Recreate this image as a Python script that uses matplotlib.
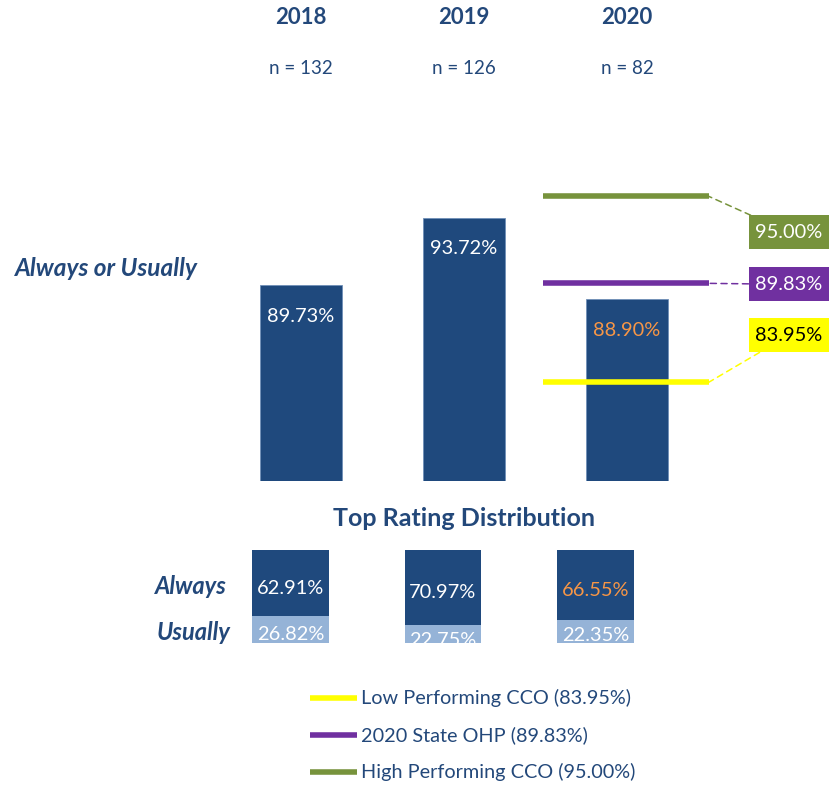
import matplotlib
matplotlib.use('Agg')
import matplotlib.pyplot as plt
from matplotlib.path import Path

plt.rcParams['font.family'] = ['Lato', 'DejaVu Sans']

years = ['2018', '2019', '2020']
n_resp = [132, 126, 82]
always_usually = [89.73, 93.72, 88.90]
always = [62.91, 70.97, 66.55]
usually = [26.82, 22.75, 22.35]
ref_names = ['Low Performing CCO', '2020 State OHP', 'High Performing CCO']
ref_values = [83.95, 89.83, 95.00]

navy = '#1F497D'
text_blue = '#23487A'
light_blue = '#95B3D7'
orange = '#F79646'
ref_colors = ['#FFFF00', '#7030A0', '#77933C']
ref_text = ['black', 'white', 'white']
# label box offsets from the end of each reference line (pixels)
ref_offsets = [(80, 47), (80, -1), (80, -36)]

W, H = 834, 791
fig = plt.figure(figsize=(W / 100, H / 100), dpi=100)

def px_axes(x0, y0, x1, y1):
    return fig.add_axes([x0 / W, 1 - y1 / H, (x1 - x0) / W, (y1 - y0) / H])

def fx(x):
    return x / W

def fy(y):
    return 1 - y / H

def fixed_box(x0, y0, width, height, mutation_size):
    # 80 x 34 px box centred on the label
    cx, cy = x0 + width / 2, y0 + height / 2
    hw, hh = 40, 17
    return Path([(cx - hw, cy - hh), (cx + hw, cy - hh), (cx + hw, cy + hh),
                 (cx - hw, cy + hh), (cx - hw, cy - hh)], closed=True)

# main bars
ax = px_axes(219.5, 181, 708.5, 481)
ax.set_xlim(-0.5, 2.5)
ax.set_ylim(78.1, 78.1 + 300 / 16.85)
ax.axis('off')
for i, v in enumerate(always_usually):
    ax.bar(i, v - 78.1, bottom=78.1, width=0.5, color=navy, edgecolor='#6F8FB8', linewidth=0.6)
    c = orange if years[i] == '2020' else 'white'
    ax.annotate('%.2f%%' % v, xy=(i, v), xytext=(0, -31), textcoords='offset pixels',
                ha='center', va='center', fontsize=14.4, color=c)

for name, v, col, tc, off in zip(ref_names, ref_values, ref_colors, ref_text, ref_offsets):
    ax.plot([1.485, 2.5], [v, v], color=col, linewidth=4, solid_capstyle='butt', zorder=3)
    ax.annotate('%.2f%%' % v, xy=(2.5, v), xytext=off, textcoords='offset pixels',
                ha='center', va='center', fontsize=14.4, color=tc, annotation_clip=False,
                bbox=dict(boxstyle=fixed_box, facecolor=col, edgecolor='none'),
                arrowprops=dict(arrowstyle='-', color=col, linestyle=(0, (4, 3)), linewidth=1.1,
                                shrinkA=0, shrinkB=0))

# top rating distribution
ax2 = px_axes(214.25, 550, 671.75, 643)
ax2.set_xlim(-0.5, 2.5)
ax2.set_ylim(88.5, 0)
ax2.axis('off')
for i in range(len(years)):
    ax2.bar(i, always[i], width=0.5, color=navy)
    ax2.bar(i, usually[i], bottom=always[i], width=0.5, color=light_blue)
    c = orange if years[i] == '2020' else 'white'
    ax2.text(i, always[i] / 2 + 5, '%.2f%%' % always[i], ha='center', va='center',
             fontsize=14.4, color=c)
    t = ax2.text(i, always[i] + usually[i] / 2 + 4, '%.2f%%' % usually[i], ha='center',
                 va='center', fontsize=14.4, color='white')
    t.set_clip_on(True)

# headers
for i, (y, n) in enumerate(zip(years, n_resp)):
    xc = 301 + i * 163
    fig.text(fx(xc), fy(18), y, ha='center', va='center', fontsize=16, fontweight='bold', color=text_blue)
    fig.text(fx(xc), fy(69), 'n = %d' % n, ha='center', va='center', fontsize=13.5, color=text_blue)

fig.text(fx(15), fy(268), 'Always or Usually', ha='left', va='center', fontsize=17.6,
         fontweight='bold', fontstyle='italic', color=text_blue)
fig.text(fx(464), fy(519), 'Top Rating Distribution', ha='center', va='center', fontsize=18,
         fontweight='bold', color=text_blue)
fig.text(fx(191), fy(587), 'Always', ha='center', va='center', fontsize=17,
         fontweight='bold', fontstyle='italic', color=text_blue)
fig.text(fx(194), fy(633), 'Usually', ha='center', va='center', fontsize=17,
         fontweight='bold', fontstyle='italic', color=text_blue)

# legend
for k, (name, v, col) in enumerate(zip(ref_names, ref_values, ref_colors)):
    yy = fy(698 + k * 37)
    fig.add_artist(plt.Line2D([fx(310), fx(357)], [yy, yy], color=col, linewidth=4,
                              solid_capstyle='butt', transform=fig.transFigure))
    fig.text(fx(361), yy, '%s (%.2f%%)' % (name, v), ha='left', va='center', fontsize=14.3,
             color=text_blue)

fig.savefig('out.png', dpi=100, facecolor='white')
